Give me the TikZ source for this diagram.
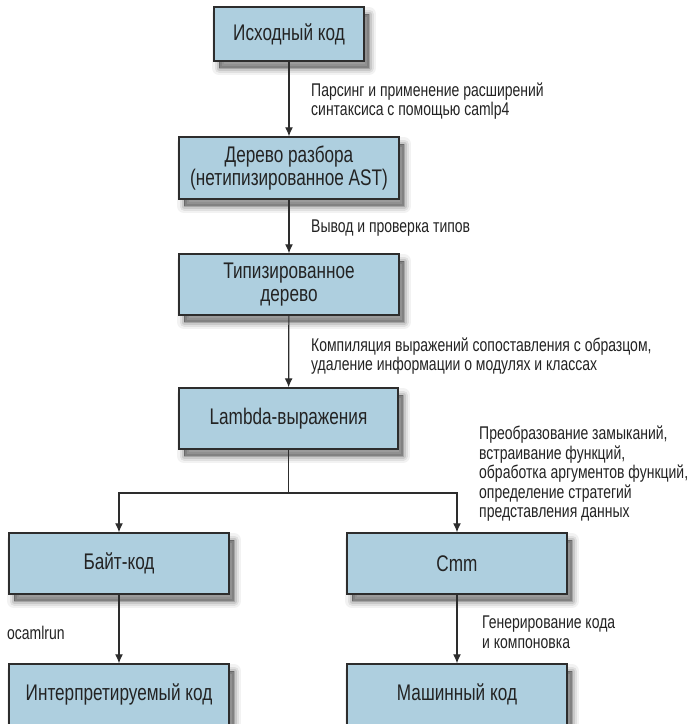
\documentclass[tikz,border=0pt]{standalone}
\usepackage{fontspec}
\setmainfont{Liberation Sans}[FakeStretch=0.76]
\usetikzlibrary{arrows.meta}
\definecolor{boxfill}{RGB}{174,207,223}
\definecolor{boxline}{RGB}{45,45,45}
\definecolor{txt}{RGB}{35,35,35}
\tikzset{
  stagebox/.style={
    preaction={fill=black, draw=black, fill opacity=0.05, draw opacity=0.05, line width=14pt, line join=round, transform canvas={shift={(5pt,-7pt)}}},
    preaction={fill=black, draw=black, fill opacity=0.07, draw opacity=0.07, line width=9pt, line join=round, transform canvas={shift={(5pt,-7pt)}}},
    preaction={fill=black, draw=black, fill opacity=0.10, draw opacity=0.10, line width=5pt, line join=round, transform canvas={shift={(5pt,-7pt)}}},
    preaction={fill=black, draw=black, fill opacity=0.18, draw opacity=0.18, line width=1pt, line join=round, transform canvas={shift={(5pt,-7pt)}}},
    draw=boxline, fill=boxfill, line width=1.4pt, text=txt,
    minimum width=220pt, minimum height=61pt, inner sep=0pt, align=center,
    font=\fontsize{22.6}{23}\selectfont},
  steplabel/.style={anchor=west, align=left, text=txt, inner sep=0pt,
    font=\fontsize{18.4}{19.5}\selectfont},
  flow/.style={draw=boxline, line width=1.2pt, -{Latex[length=9pt,width=8pt]}},
  plain/.style={draw=boxline, line width=1.2pt}
}
\begin{document}
\begin{tikzpicture}[x=1pt,y=-1pt]
\useasboundingbox[fill=white] (0,0) rectangle (693,724);
\node[stagebox, minimum width=150pt, minimum height=54pt] (src) at (289,34) {Исходный код};
\node[stagebox, minimum height=62pt] (ast) at (289,168) {Дерево разбора\\(нетипизированное AST)};
\node[stagebox] (typed) at (289,284.5) {Типизированное\\дерево};
\node[stagebox, minimum width=219pt] (lam) at (288.5,418.5) {Lambda-выражения};
\node[stagebox] (byte) at (119,563.5) {Байт-код};
\node[stagebox] (cmm) at (457,563.5) {Cmm};
\node[stagebox] (interp) at (119,694.5) {Интерпретируемый код};
\node[stagebox] (mach) at (457,694.5) {Машинный код};

\coordinate (split) at (288.5,493);
\coordinate (lft) at (119,493);
\coordinate (rgt) at (457,493);

\draw[flow] (src) -- (ast);
\draw[flow] (ast) -- (typed);
\draw[flow] (typed) -- (lam);
\draw[plain] (lam) -- (split);
\draw[flow] (split) -- (lft) -- (byte);
\draw[flow] (split) -- (rgt) -- (cmm);
\draw[flow] (byte) -- (interp);
\draw[flow] (cmm) -- (mach);

\node[steplabel] (l1) at (311,101) {Парсинг и применение расширений\\синтаксиса с помощью camlp4};
\node[steplabel] (l2) at (311,228) {Вывод и проверка типов};
\node[steplabel] (l3) at (311,356) {Компиляция выражений сопоставления с образцом,\\удаление информации о модулях и классах};
\node[steplabel] (l4) at (479,474) {Преобразование замыканий,\\встраивание функций,\\обработка аргументов функций,\\определение стратегий\\представления данных};
\node[steplabel] (l5) at (7,633) {ocamlrun};
\node[steplabel] (l6) at (482,632) {Генерирование кода\\и компоновка};
\end{tikzpicture}
\end{document}
